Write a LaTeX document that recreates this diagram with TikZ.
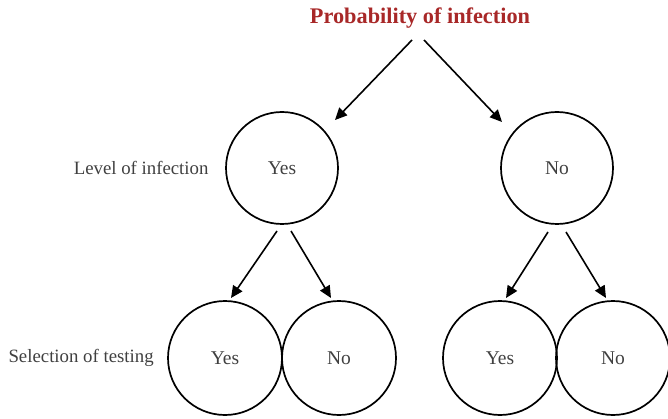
\documentclass[tikz,border=0pt]{standalone}
\usepackage{fontspec}
\setmainfont{Liberation Serif}
\usetikzlibrary{arrows.meta}
\definecolor{titlered}{HTML}{A82828}
\definecolor{txtgray}{HTML}{404040}
\begin{document}
\begin{tikzpicture}[x=1pt,y=-1pt,
  state/.style={circle,draw=black,line width=1.7pt,minimum size=112pt,inner sep=0pt,
    text=txtgray,font=\fontsize{19.5}{21}\selectfont},
  lowstate/.style={state,minimum size=114pt},
  rowlabel/.style={text=txtgray,font=\fontsize{18.8}{21}\selectfont},
  link/.style={line width=1.6pt,-{Triangle[length=12pt,width=11pt]}}]
\useasboundingbox (0,0) rectangle (668,419);
\node[font=\bfseries\fontsize{22.3}{25}\selectfont,text=titlered] (title) at (420,18) {Probability of infection};
\node[state] (yes) at (282,168) {Yes};
\node[state] (no) at (557,168) {No};
\node[lowstate] (yy) at (225,358) {Yes};
\node[lowstate] (yn) at (339,358) {No};
\node[lowstate] (ny) at (500,358) {Yes};
\node[lowstate] (nn) at (613,358) {No};
\node[rowlabel,anchor=east] (lvl) at (212,168) {Level of infection};
\node[rowlabel,anchor=west] (sel) at (5,358) {Selection of testing};
% arrow start and end points
\coordinate (t1) at (412,40);   \coordinate (h1) at (335,120);
\coordinate (t2) at (424,40);   \coordinate (h2) at (502,122);
\coordinate (a1) at (277,231);  \coordinate (b1) at (231,298);
\coordinate (a2) at (291,231);  \coordinate (b2) at (331,298);
\coordinate (a3) at (548,232);  \coordinate (b3) at (506,298);
\coordinate (a4) at (566,232);  \coordinate (b4) at (606,298);
\draw[link] (t1) -- (h1);
\draw[link] (t2) -- (h2);
\draw[link] (a1) -- (b1);
\draw[link] (a2) -- (b2);
\draw[link] (a3) -- (b3);
\draw[link] (a4) -- (b4);
\end{tikzpicture}
\end{document}
